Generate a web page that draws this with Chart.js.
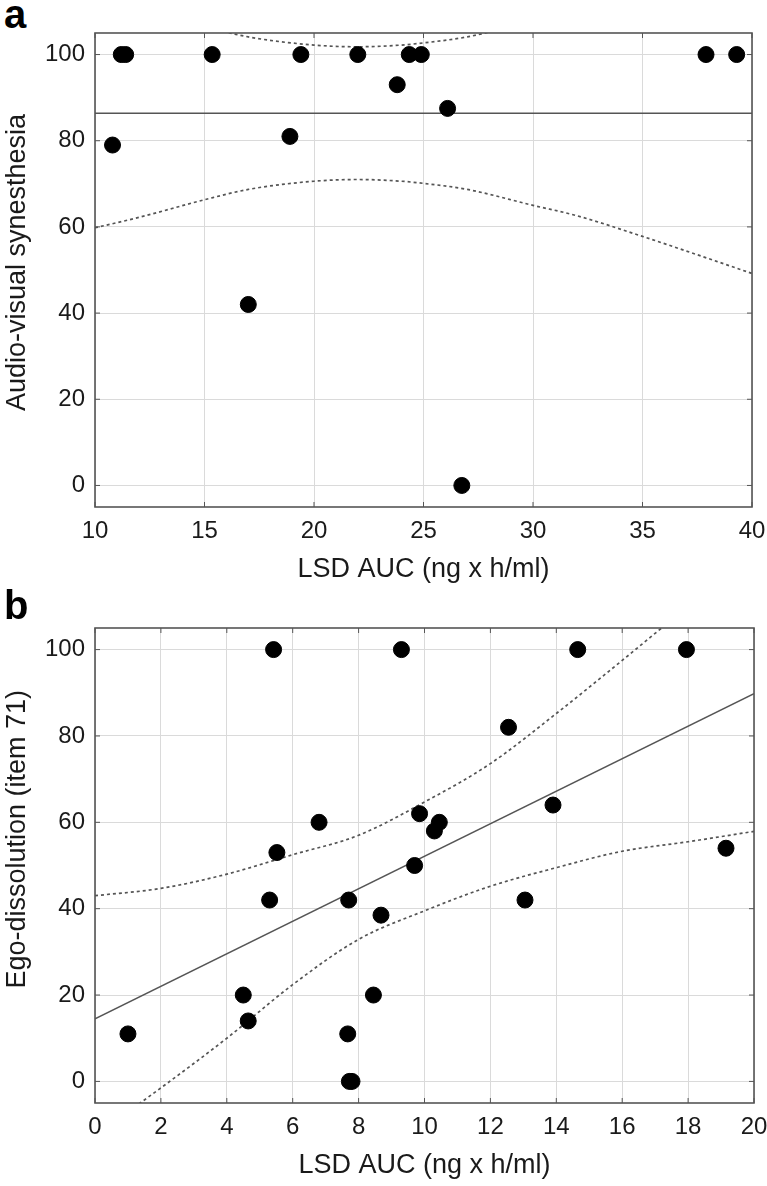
<!DOCTYPE html>
<html>
<head>
<meta charset="utf-8">
<script src="https://cdn.jsdelivr.net/npm/chart.js@4.4.1/dist/chart.umd.min.js"></script>
<style>
  body { margin: 0; background: #fff; }
  #wrap { position: relative; width: 767px; height: 1186px; overflow: hidden; }
  .panel { position: absolute; left: 0; }
  .letter { position: absolute; left: 4px; font: bold 40px 'Liberation Sans', Arial, sans-serif; line-height: 40px; color: #000; }
</style>
</head>
<body>
<div id="wrap">
  <div class="letter" style="top:-6px">a</div>
  <canvas id="chartA" class="panel" width="767" height="590" style="top:0"></canvas>
  <div class="letter" style="top:585px">b</div>
  <canvas id="chartB" class="panel" width="767" height="596" style="top:590px"></canvas>
</div>
<script>
// panel a - audio-visual synesthesia vs LSD AUC
const xA = [10.8, 11.2, 11.4, 15.35, 17.0, 18.9, 19.4, 22.0, 23.8, 24.35, 24.9, 26.1, 26.75, 37.9, 39.3];
const yA = [79, 100, 100, 100, 42, 81, 100, 100, 93, 100, 100, 87.5, 0, 100, 100];
const fitXA = [10, 40];
const fitYA = [86.4, 86.4];
const bandXA = [10, 12, 15, 17, 20, 22, 24, 25, 27, 30, 32, 35, 37, 40];
const lowerA = [59.8, 62.2, 66.3, 68.7, 70.6, 71.0, 70.6, 70.1, 68.7, 65.0, 62.6, 57.8, 54.4, 49.2];
const upperA = [113, 110.6, 106.5, 104.1, 102.2, 101.8, 102.2, 102.7, 104.1, 107.8, 110.2, 115.0, 118.4, 123.6];
const xTicksA = [10, 15, 20, 25, 30, 35, 40];

// panel b - ego-dissolution vs LSD AUC
const xB = [1.0, 4.5, 4.65, 5.3, 5.42, 5.52, 6.8, 7.7, 7.67, 7.72, 7.8, 8.45, 8.68, 9.3, 9.7, 9.85, 10.3, 10.45, 12.55, 13.05, 13.9, 14.65, 17.95, 19.15];
const yB = [11, 20, 14, 42, 100, 53, 60, 42, 11, 0, 0, 20, 38.5, 100, 50, 62, 58, 60, 82, 42, 64, 100, 100, 54];
const fitXB = [0, 20];
const fitYB = [14.5, 89.8];
const bandXB = [0, 2, 4, 6, 8, 10, 12, 14, 16, 18, 20];
const upperB = [43, 44.7, 48, 52.5, 57, 64.7, 73.6, 85.2, 97.5, 110, 122];
const lowerB = [-12.5, -1.5, 10, 22.4, 32.9, 39.5, 45.2, 49.5, 53.3, 55.5, 57.9];
const xTicksB = [0, 2, 4, 6, 8, 10, 12, 14, 16, 18, 20];

const yTicks = [0, 20, 40, 60, 80, 100];

Chart.defaults.font.family = "'Liberation Sans', Arial, sans-serif";
Chart.defaults.color = '#1a1a1a';

// box round the plot area plus the short inner tick marks
const frameBox = {
    id: 'frameBox',
    afterDraw(chart) {
        const a = chart.chartArea;
        const ctx = chart.ctx;
        ctx.save();
        ctx.strokeStyle = '#555';
        ctx.lineWidth = 1.6;
        ctx.strokeRect(a.left, a.top, a.right - a.left, a.bottom - a.top);
        ctx.lineWidth = 1;
        ctx.beginPath();
        chart.scales.y.ticks.forEach(t => {
            const py = chart.scales.y.getPixelForValue(t.value);
            ctx.moveTo(a.left, py); ctx.lineTo(a.left + 5, py);
            ctx.moveTo(a.right, py); ctx.lineTo(a.right - 5, py);
        });
        chart.scales.x.ticks.forEach(t => {
            const px = chart.scales.x.getPixelForValue(t.value);
            ctx.moveTo(px, a.bottom); ctx.lineTo(px, a.bottom - 5);
            ctx.moveTo(px, a.top); ctx.lineTo(px, a.top + 5);
        });
        ctx.stroke();
        ctx.restore();
    }
};

function toPoints(xs, ys) {
    return xs.map((x, i) => ({ x: x, y: ys[i] }));
}

function lineSet(xs, ys, dashed) {
    return {
        data: toPoints(xs, ys),
        showLine: true,
        borderColor: '#555',
        borderWidth: dashed ? 1.7 : 1.5,
        borderDash: dashed ? [3, 3] : [],
        pointRadius: 0,
        cubicInterpolationMode: dashed ? 'monotone' : 'default',
        order: 2
    };
}

function buildPanel(id, cfg) {
    const ctx = document.getElementById(id).getContext('2d');
    return new Chart(ctx, {
        type: 'scatter',
        data: {
            datasets: [
                {
                    data: toPoints(cfg.xs, cfg.ys),
                    backgroundColor: '#000',
                    borderColor: '#000',
                    pointRadius: 8,
                    pointHoverRadius: 8,
                    order: 0
                },
                lineSet(cfg.fitX, cfg.fitY, false),
                lineSet(cfg.bandX, cfg.upper, true),
                lineSet(cfg.bandX, cfg.lower, true)
            ]
        },
        options: {
            responsive: false,
            animation: false,
            layout: { padding: { top: cfg.top, right: cfg.right, left: 0, bottom: 0 } },
            plugins: { legend: { display: false }, tooltip: { enabled: false } },
            scales: {
                x: {
                    type: 'linear',
                    min: cfg.xTicks[0],
                    max: cfg.xTicks[cfg.xTicks.length - 1],
                    afterBuildTicks: s => { s.ticks = cfg.xTicks.map(v => ({ value: v })); },
                    afterFit: s => { s.height = 83; s.paddingLeft = 0; s.paddingRight = 0; },
                    grid: { color: '#dadada', lineWidth: 1, drawTicks: false },
                    border: { display: false },
                    ticks: { font: { size: 24 }, padding: 10, maxRotation: 0 },
                    title: { display: true, text: 'LSD AUC (ng x h/ml)', font: { size: 27 }, padding: { top: 0, bottom: 4 } }
                },
                y: {
                    min: -5,
                    max: 105,
                    afterBuildTicks: s => { s.ticks = yTicks.map(v => ({ value: v })); },
                    afterFit: s => { s.width = 95; s.paddingTop = 0; s.paddingBottom = 0; },
                    grid: { color: '#dadada', lineWidth: 1, drawTicks: false },
                    border: { display: false },
                    ticks: { font: { size: 24 }, padding: 10 },
                    title: { display: true, text: cfg.yTitle, font: { size: 27 }, padding: { top: 1, bottom: 0 } }
                }
            }
        },
        plugins: [frameBox]
    });
}

buildPanel('chartA', {
    xs: xA, ys: yA, fitX: fitXA, fitY: fitYA,
    bandX: bandXA, upper: upperA, lower: lowerA,
    xTicks: xTicksA, top: 33, right: 15,
    yTitle: '  Audio-visual synesthesia'
});

// leading spaces lift the title a little, as in the original figure
buildPanel('chartB', {
    xs: xB, ys: yB, fitX: fitXB, fitY: fitYB,
    bandX: bandXB, upper: upperB, lower: lowerB,
    xTicks: xTicksB, top: 38, right: 13,
    yTitle: '       Ego-dissolution (item 71)'
});
</script>
</body>
</html>
